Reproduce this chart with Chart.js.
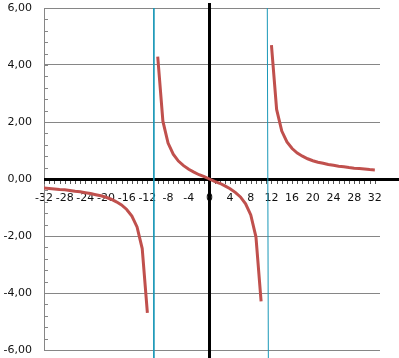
<!DOCTYPE html>
<html>
<head>
<meta charset="utf-8">
<script src="https://cdn.jsdelivr.net/npm/chart.js@4/dist/chart.umd.min.js"></script>
<style>
  html, body { margin: 0; padding: 0; background: #fff; }
  #wrap { width: 399px; height: 358px; }
</style>
</head>
<body>
<div id="wrap"><canvas id="chart"></canvas></div>
<script>
// left branch, x = -32 .. -12
const leftX = [-32, -31, -30, -29, -28, -27, -26, -25, -24, -23, -22, -21, -20, -19, -18, -17, -16, -15, -14, -13, -12];
const leftY = [-0.32, -0.33, -0.35, -0.37, -0.38, -0.40, -0.43, -0.45, -0.48, -0.51, -0.55, -0.59, -0.64, -0.71, -0.80, -0.91, -1.07, -1.30, -1.68, -2.44, -4.70];

// middle branch, x = -10 .. 10
const midX = [-10, -9, -8, -7, -6, -5, -4, -3, -2, -1, 0, 1, 2, 3, 4, 5, 6, 7, 8, 9, 10];
const midY = [4.29, 2.03, 1.26, 0.87, 0.63, 0.47, 0.34, 0.24, 0.15, 0.08, 0, -0.08, -0.15, -0.24, -0.34, -0.47, -0.63, -0.87, -1.26, -2.03, -4.29];

// right branch, x = 12 .. 32
const rightX = [12, 13, 14, 15, 16, 17, 18, 19, 20, 21, 22, 23, 24, 25, 26, 27, 28, 29, 30, 31, 32];
const rightY = [4.70, 2.44, 1.68, 1.30, 1.07, 0.91, 0.80, 0.71, 0.64, 0.59, 0.55, 0.51, 0.48, 0.45, 0.43, 0.40, 0.38, 0.37, 0.35, 0.33, 0.32];

// asymptote markers
const asymLeftX = [-10.75, -10.75];
const asymRightX = [11.2, 11.4];
const asymY = [6, -6.3];

const xTicks = [-32, -28, -24, -20, -16, -12, -8, -4, 0, 4, 8, 12, 16, 20, 24, 28, 32];

const curveColor = '#C0504D';
const asymColor = '#1A98B8';

function toPoints(xs, ys) {
    return xs.map((x, i) => ({ x: x, y: ys[i] }));
}

function curve(xs, ys) {
    return {
        data: toPoints(xs, ys),
        showLine: true,
        borderColor: curveColor,
        borderWidth: 3,
        pointRadius: 0,
        tension: 0
    };
}

function asym(xs) {
    return {
        data: toPoints(xs, asymY),
        showLine: true,
        borderColor: asymColor,
        borderWidth: 1,
        pointRadius: 0,
        clip: false
    };
}

function noPad(s) {
    s.paddingTop = 0;
    s.paddingBottom = 0;
    s.paddingLeft = 0;
    s.paddingRight = 0;
}

// black axes through the origin + minor tick marks
const axesPlugin = {
    id: 'axes',
    beforeDatasetsDraw(chart) {
        const c = chart.ctx;
        const xs = chart.scales.x;
        const ys = chart.scales.y;
        const x0 = Math.round(xs.getPixelForValue(0));
        const y0 = Math.round(ys.getPixelForValue(0));
        c.save();

        // minor ticks on y axis, every 0.4
        c.strokeStyle = '#868686';
        c.lineWidth = 1;
        c.beginPath();
        for (let v = -6; v <= 6.001; v += 0.4) {
            const py = Math.round(ys.getPixelForValue(v)) + 0.5;
            c.moveTo(chart.chartArea.left, py);
            c.lineTo(chart.chartArea.left + 4, py);
        }
        c.stroke();

        // minor ticks under x axis, every 1
        c.strokeStyle = '#555';
        c.beginPath();
        for (let v = -32; v <= 32; v++) {
            const px = Math.round(xs.getPixelForValue(v)) + 0.5;
            c.moveTo(px, y0 + 1);
            c.lineTo(px, y0 + 5);
        }
        c.stroke();

        c.fillStyle = '#000';
        c.fillRect(chart.chartArea.left, y0 - 1, chart.width - chart.chartArea.left, 3);
        c.fillRect(x0 - 1, 3, 3, chart.height - 3);
        c.restore();
    }
};

new Chart(document.getElementById('chart'), {
    type: 'scatter',
    data: {
        datasets: [
            curve(leftX, leftY),
            curve(midX, midY),
            curve(rightX, rightY),
            asym(asymLeftX),
            asym(asymRightX)
        ]
    },
    options: {
        responsive: true,
        maintainAspectRatio: false,
        animation: false,
        layout: { padding: { top: 8, right: 19, bottom: 8, left: 0 } },
        plugins: {
            legend: { display: false },
            tooltip: { enabled: false }
        },
        scales: {
            x: {
                type: 'linear',
                min: -32,
                max: 33,
                position: { y: 0 },
                afterBuildTicks: s => { s.ticks = xTicks.map(v => ({ value: v })); },
                afterFit: noPad,
                grid: { display: false, drawTicks: false },
                border: { display: false },
                ticks: {
                    padding: 13,
                    maxRotation: 0,
                    autoSkip: false,
                    color: '#111',
                    font: { family: 'DejaVu Sans', size: 11 },
                    callback: v => String(v)
                }
            },
            y: {
                min: -6,
                max: 6,
                afterFit: s => { s.width = 44; noPad(s); },
                grid: { color: '#868686', lineWidth: 1, drawTicks: false },
                border: { color: '#868686', width: 1 },
                ticks: {
                    stepSize: 2,
                    padding: 12,
                    color: '#111',
                    font: { family: 'DejaVu Sans', size: 11 },
                    callback: v => v.toFixed(2).replace('.', ',')
                }
            }
        }
    },
    plugins: [axesPlugin]
});
</script>
</body>
</html>
